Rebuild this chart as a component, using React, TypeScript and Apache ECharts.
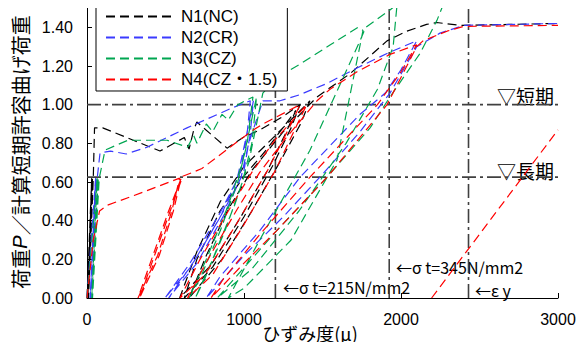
import React, { useEffect, useRef } from "react";
import * as echarts from "echarts";

// ---- data (strain μ, load ratio P/Pa) ----
const n1: [number, number][] = [
  [0, 0], [30, 0.62], [5, 0], [35, 0.62], [10, 0], [40, 0.62], [48, 0.88], [100, 0.88], [465, 0.76],
  [620, 0.83], [650, 0.77], [680, 0.87], [700, 0.91], [892, 0.775], [994, 0.83], [1102, 0.87], [1250, 0.94], [1357, 1.0],
  [1300, 0.88], [1180, 0.68], [1000, 0.42], [800, 0.16], [620, 0], [700, 0.2], [847, 0.45], [1000, 0.63], [1146, 0.77], [1330, 0.97],
  [1270, 0.86], [1150, 0.66], [980, 0.42], [790, 0.17], [590, 0], [700, 0.24], [850, 0.5], [1000, 0.68], [1150, 0.8], [1420, 1.02],
  [1360, 0.9], [1240, 0.72], [1050, 0.45], [860, 0.2], [650, 0], [760, 0.22], [900, 0.46], [1050, 0.66], [1250, 0.86], [1465, 1.04],
  [1675, 1.16], [1800, 1.25], [1911, 1.33], [2036, 1.38], [2163, 1.415], [2227, 1.425], [2376, 1.41], [3000, 1.42],
];
const n2: [number, number][] = [
  [0, 0], [55, 0.62], [20, 0], [60, 0.62], [25, 0], [65, 0.62], [83, 0.75], [150, 0.76], [250, 0.745], [382, 0.78],
  [637, 0.88], [930, 0.985], [1040, 1.02],
  [1020, 0.85], [980, 0.66], [850, 0.42], [660, 0.16], [497, 0], [656, 0.18], [847, 0.44], [955, 0.61], [1000, 0.78], [1060, 1.02],
  [1040, 0.85], [1000, 0.66], [880, 0.44], [700, 0.18], [520, 0], [690, 0.2], [870, 0.45], [980, 0.62], [1030, 0.8], [1120, 1.02],
  [1229, 1.02], [1350, 1.05], [1529, 1.11], [1720, 1.19], [1911, 1.265], [2100, 1.33],
  [2000, 1.18], [1900, 1.06], [1739, 0.95], [1357, 0.625], [1102, 0.35], [847, 0.11], [760, 0],
  [1000, 0.22], [1250, 0.42], [1500, 0.64], [1739, 0.86], [1930, 1.06], [2100, 1.3],
  [2248, 1.37], [2400, 1.41], [3000, 1.42],
];
const n3: [number, number][] = [
  [0, 0], [65, 0.62], [30, 0], [72, 0.62], [35, 0], [78, 0.62], [115, 0.765], [260, 0.816], [510, 0.816], [640, 0.78],
  [680, 0.84], [700, 0.8], [760, 0.9], [800, 0.86], [860, 0.95], [900, 0.92], [960, 1.0], [1057, 1.04],
  [1020, 0.8], [960, 0.6], [850, 0.35], [720, 0.1], [650, 0], [760, 0.2], [900, 0.48], [990, 0.7], [1080, 1.04],
  [1050, 0.8], [990, 0.6], [880, 0.35], [750, 0.1], [690, 0], [800, 0.2], [940, 0.48], [1030, 0.7], [1120, 1.06],
  [1210, 1.14], [1357, 1.21], [1550, 1.31], [1726, 1.4],
  [1758, 1.384], [1592, 0.713], [1300, 0.3], [1000, 0.05], [900, 0],
  [1100, 0.3], [1420, 0.764], [1739, 1.33], [1775, 1.4], [1930, 1.49], [1975, 1.52],
  [1950, 1.3], [1850, 1.08], [1650, 0.8], [1350, 0.45], [1050, 0.15], [830, 0],
  [1210, 0.35], [1529, 0.625], [1803, 0.88], [1930, 1.04], [2121, 1.265], [2229, 1.436], [2270, 1.52],
];
const n4: [number, number][] = [
  [0, 0], [40, 0.3], [80, 0.45], [130, 0.48], [300, 0.53], [590, 0.62],
  [540, 0.45], [450, 0.22], [325, 0], [420, 0.22], [520, 0.45], [600, 0.62],
  [550, 0.45], [460, 0.22], [335, 0], [430, 0.22], [530, 0.45], [610, 0.63],
  [675, 0.65], [732, 0.67], [911, 0.78], [1057, 0.868], [1121, 0.9], [1357, 1.0],
  [1300, 0.9], [1150, 0.66], [950, 0.38], [750, 0.12], [592, 0], [720, 0.2], [900, 0.45], [1050, 0.65], [1200, 0.82], [1400, 1.0],
  [1340, 0.9], [1200, 0.66], [1000, 0.38], [800, 0.12], [640, 0], [770, 0.2], [950, 0.45], [1100, 0.65], [1260, 0.82], [1465, 1.02],
  [1548, 1.08], [1720, 1.17], [1930, 1.26], [2100, 1.31],
  [2000, 1.17], [1850, 1.0], [1420, 0.625], [1102, 0.33], [870, 0.1], [790, 0],
  [1000, 0.18], [1210, 0.35], [1529, 0.625], [1911, 1.0], [2100, 1.3], [2140, 1.33], [2293, 1.38], [2400, 1.405], [3000, 1.41],
];
const yieldLine: [number, number][] = [[2195, 0], [3000, 0.87]];

const seriesNames = ["N1(NC)", "N2(CR)", "N3(CZ)", "N4(CZ・1.5)"];
const seriesColors = ["#000000", "#3b3bff", "#00a651", "#ff0000"];
const refLoads = [1.0, 0.625];
const refStrains = [1200, 1925, 2430];
const yTickValues = [0, 0.2, 0.4, 0.6, 0.8, 1.0, 1.2, 1.4];

const CJK = "'Noto Sans CJK JP', 'Liberation Sans', sans-serif";
const LAT = "'Liberation Sans', 'Noto Sans CJK JP', sans-serif";

export default function App() {
  const ref = useRef<HTMLDivElement>(null);
  useEffect(() => {
    if (!ref.current) return;
    const chart = echarts.init(ref.current, undefined, { renderer: "svg" });
    const dashed = [9, 5];
    const dashDot = [14, 4, 3, 4];
    const all = [n1, n2, n3, n4];
    const series: any[] = all.map((d, i) => ({
      name: seriesNames[i],
      type: "line",
      data: d,
      symbol: "none",
      showSymbol: false,
      clip: true,
      lineStyle: { color: seriesColors[i], width: 1.2, type: dashed },
      itemStyle: { color: seriesColors[i] },
      z: 3,
    }));
    series.push({
      name: "yield",
      type: "line",
      data: yieldLine,
      symbol: "none",
      lineStyle: { color: "#ff0000", width: 1.2, type: dashed },
      z: 3,
    });
    refLoads.forEach((v, i) => {
      series.push({
        name: "refL" + i,
        type: "line",
        data: [[0, v], [3000, v]],
        symbol: "none",
        lineStyle: { color: "#404040", width: 1.6, type: dashDot },
        z: 2,
      });
    });
    refStrains.forEach((v, i) => {
      series.push({
        name: "refS" + i,
        type: "line",
        data: [[v, 0], [v, 1.5]],
        symbol: "none",
        lineStyle: { color: "#404040", width: 1.6, type: dashDot },
        z: 2,
      });
    });
    const textStyleSmall = { fill: "#000", align: "left", verticalAlign: "middle", lineHeight: 15 };
    chart.setOption({
      animation: false,
      grid: { left: 87, right: 29, top: 8, bottom: 52, containLabel: false },
      legend: {
        data: seriesNames,
        orient: "vertical",
        left: 96,
        top: 5,
        itemWidth: 70,
        itemHeight: 10,
        itemGap: 4,
        padding: [3, 10, 3, 9],
        backgroundColor: "#ffffff",
        borderColor: "#000000",
        borderWidth: 1,
        itemStyle: { opacity: 0, borderWidth: 0 },
        textStyle: { fontSize: 17, color: "#000", fontFamily: LAT },
        z: 10,
      },
      xAxis: {
        type: "value",
        min: 0,
        max: 3000,
        interval: 1000,
        axisLine: { lineStyle: { color: "#000", width: 1 } },
        axisTick: { inside: true, length: 5, lineStyle: { color: "#000" } },
        axisLabel: { fontSize: 16, color: "#000", margin: 13, fontFamily: LAT, formatter: (v: number) => String(v) },
        splitLine: { show: false },
      },
      yAxis: {
        type: "value",
        min: 0,
        max: 1.5,
        interval: 0.2,
        axisLine: { show: true, lineStyle: { color: "#000", width: 1 } },
        axisTick: { inside: true, length: 5, lineStyle: { color: "#000" } },
        axisLabel: {
          fontSize: 16,
          color: "#000",
          margin: 14,
          fontFamily: LAT,
          showMaxLabel: false,
          formatter: (v: number) => (yTickValues.some((t) => Math.abs(t - v) < 1e-6) ? v.toFixed(2) : ""),
        },
        splitLine: { show: false },
      },
      graphic: [
        {
          type: "text",
          x: 20,
          y: 152,
          rotation: Math.PI / 2,
          style: {
            text: "荷重{i|P}／計算短期許容曲げ荷重",
            font: `20px ${CJK}`,
            fill: "#000",
            align: "center",
            verticalAlign: "middle",
            rich: { i: { fontStyle: "italic", fontSize: 20, fontFamily: LAT } },
          },
        },
        {
          type: "text",
          x: 310,
          y: 333,
          style: { text: "ひずみ度(μ)", font: `18px ${CJK}`, fill: "#000", align: "center", verticalAlign: "middle" },
        },
        {
          type: "text",
          x: 497,
          y: 95,
          style: { text: "▽短期", font: `19px ${CJK}`, fill: "#000", align: "left", verticalAlign: "middle" },
        },
        {
          type: "text",
          x: 497,
          y: 170,
          style: { text: "▽長期", font: `19px ${CJK}`, fill: "#000", align: "left", verticalAlign: "middle" },
        },
        {
          type: "text",
          x: 283,
          y: 287,
          style: { ...textStyleSmall, text: "←σ t=215N/mm2", font: `16px ${CJK}` },
        },
        {
          type: "text",
          x: 396,
          y: 267,
          style: { ...textStyleSmall, text: "←σ t=345N/mm2", font: `16px ${CJK}` },
        },
        {
          type: "text",
          x: 475,
          y: 290,
          style: { ...textStyleSmall, text: "←ε y", font: `16px ${CJK}` },
        },
      ],
      series,
    });
    return () => chart.dispose();
  }, []);
  return <div ref={ref} style={{ width: 587, height: 350, margin: -8 }} />;
}
